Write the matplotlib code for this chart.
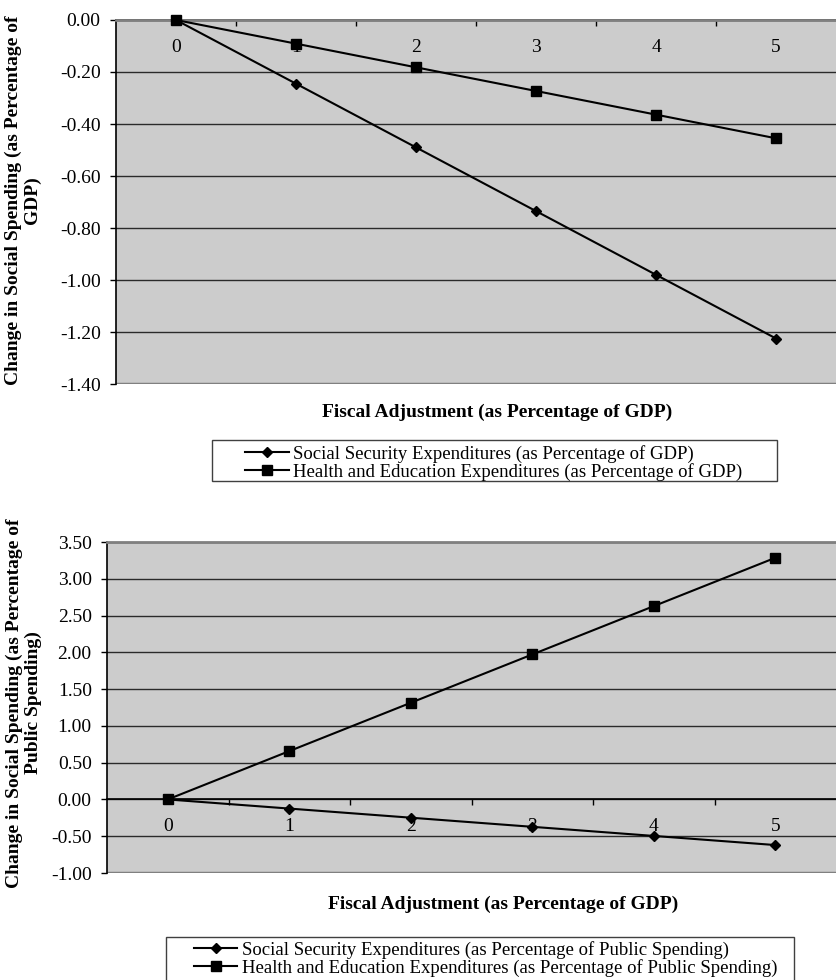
import matplotlib
matplotlib.use("Agg")
import matplotlib.pyplot as plt
from matplotlib.lines import Line2D
from matplotlib.patches import Rectangle

plt.rcParams["font.family"] = ["Liberation Serif", "DejaVu Serif"]

# Данные
fiscal_adj = [0, 1, 2, 3, 4, 5]
x_labels = ["0", "1", "2", "3", "4", "5"]

gdp_social = [0.00, -0.245, -0.49, -0.735, -0.98, -1.225]
gdp_health = [0.00, -0.091, -0.182, -0.273, -0.364, -0.455]
gdp_yticks = [0.00, -0.20, -0.40, -0.60, -0.80, -1.00, -1.20, -1.40]

pub_social = [0.00, -0.124, -0.248, -0.372, -0.496, -0.62]
pub_health = [0.00, 0.657, 1.314, 1.971, 2.628, 3.285]
pub_yticks = [3.50, 3.00, 2.50, 2.00, 1.50, 1.00, 0.50, 0.00, -0.50, -1.00]

xlabel = "Fiscal Adjustment (as Percentage of GDP)"
ylabel_top = "Change in Social Spending (as Percentage of\nGDP)"
ylabel_bot = "Change in Social Spending (as Percentage of\nPublic Spending)"
legend_top = ["Social Security Expenditures (as Percentage of GDP)",
              "Health and Education Expenditures (as Percentage of GDP)"]
legend_bot = ["Social Security Expenditures (as Percentage of Public Spending)",
              "Health and Education Expenditures (as Percentage of Public Spending)"]

W, H = 836, 980
FS = 14
FS_LEG = 13.5
BG = "#CCCCCC"
GRID = "#2a2a2a"
BORDER = "#808080"


def px(x0, y0, x1, y1):
    """пиксели (сверху-вниз) -> доли фигуры"""
    return [x0 / W, 1 - y1 / H, (x1 - x0) / W, (y1 - y0) / H]


def style_axes(ax, yticks, label_pad):
    ax.set_facecolor(BG)
    ax.set_xlim(-0.5, 5.5)
    ax.set_ylim(min(yticks), max(yticks))
    ax.set_yticks(yticks)
    ax.set_yticklabels([f"{v:.2f}" for v in yticks], fontsize=FS)
    ax.yaxis.grid(True, color=GRID, linewidth=1.0)
    ax.set_axisbelow(True)

    ax.spines["right"].set_visible(False)
    ax.spines["top"].set_color(BORDER)
    ax.spines["top"].set_linewidth(2)
    ax.spines["left"].set_color("black")
    ax.spines["left"].set_linewidth(1.2)
    ax.spines["bottom"].set_position(("data", 0))
    ax.spines["bottom"].set_color("black")
    ax.spines["bottom"].set_linewidth(1.2)
    # нижняя рамка области
    ax.axhline(min(yticks), color=BORDER, linewidth=2.5, zorder=1)

    ax.set_xticks([0.5, 1.5, 2.5, 3.5, 4.5])
    ax.set_xticklabels([])
    ax.set_xticks(fiscal_adj, minor=True)
    ax.set_xticklabels(x_labels, minor=True, fontsize=FS)
    ax.tick_params(axis="x", which="major", direction="out", length=4, width=1)
    ax.tick_params(axis="x", which="minor", length=0, pad=label_pad)
    ax.tick_params(axis="y", direction="out", length=4, width=1, pad=7)


def draw_series(ax, social, health):
    ax.plot(fiscal_adj, social, color="black", linewidth=1.5, marker="D",
            markersize=5, clip_on=False, zorder=3)
    ax.plot(fiscal_adj, health, color="black", linewidth=1.5, marker="s",
            markersize=7, clip_on=False, zorder=3)


def add_legend(fig, labels, center, frame):
    handles = [
        Line2D([], [], color="black", linewidth=1.5, marker="D", markersize=5),
        Line2D([], [], color="black", linewidth=1.5, marker="s", markersize=7),
    ]
    fig.legend(handles, labels, loc="center", bbox_to_anchor=center,
               frameon=False, fontsize=FS_LEG, handlelength=2.3,
               handletextpad=0.25, labelspacing=0.0, borderpad=0)
    x0, y0, x1, y1 = frame
    fig.patches.append(Rectangle((x0 / W, 1 - y1 / H), (x1 - x0) / W, (y1 - y0) / H,
                                 transform=fig.transFigure, fill=False,
                                 edgecolor="#404040", linewidth=1.0))


fig = plt.figure(figsize=(W / 100, H / 100), dpi=100)
fig.patch.set_facecolor("white")

# Верхний график — % ВВП
ax1 = fig.add_axes(px(116, 20, 836, 384))
style_axes(ax1, gdp_yticks, label_pad=14)
draw_series(ax1, gdp_social, gdp_health)
fig.text(23 / W, 1 - 200 / H, ylabel_top, rotation=90, ha="center", va="center",
         fontsize=FS, fontweight="bold", multialignment="center", linespacing=1.1)
fig.text(497 / W, 1 - 412 / H, xlabel, ha="center", va="center",
         fontsize=FS, fontweight="bold")
add_legend(fig, legend_top, (494 / W, 1 - 463 / H), (212, 440, 777, 481))

# Нижний график — % госрасходов
ax2 = fig.add_axes(px(107, 542, 836, 873))
style_axes(ax2, pub_yticks, label_pad=13)
draw_series(ax2, pub_social, pub_health)
fig.text(24 / W, 1 - 703 / H, ylabel_bot, rotation=90, ha="center", va="center",
         fontsize=FS, fontweight="bold", multialignment="center", linespacing=1.1)
fig.text(503 / W, 1 - 904 / H, xlabel, ha="center", va="center",
         fontsize=FS, fontweight="bold")
add_legend(fig, legend_bot, (486 / W, 1 - 959 / H), (166, 937, 794, 990))

fig.savefig("out.png", dpi=100)
plt.close(fig)
